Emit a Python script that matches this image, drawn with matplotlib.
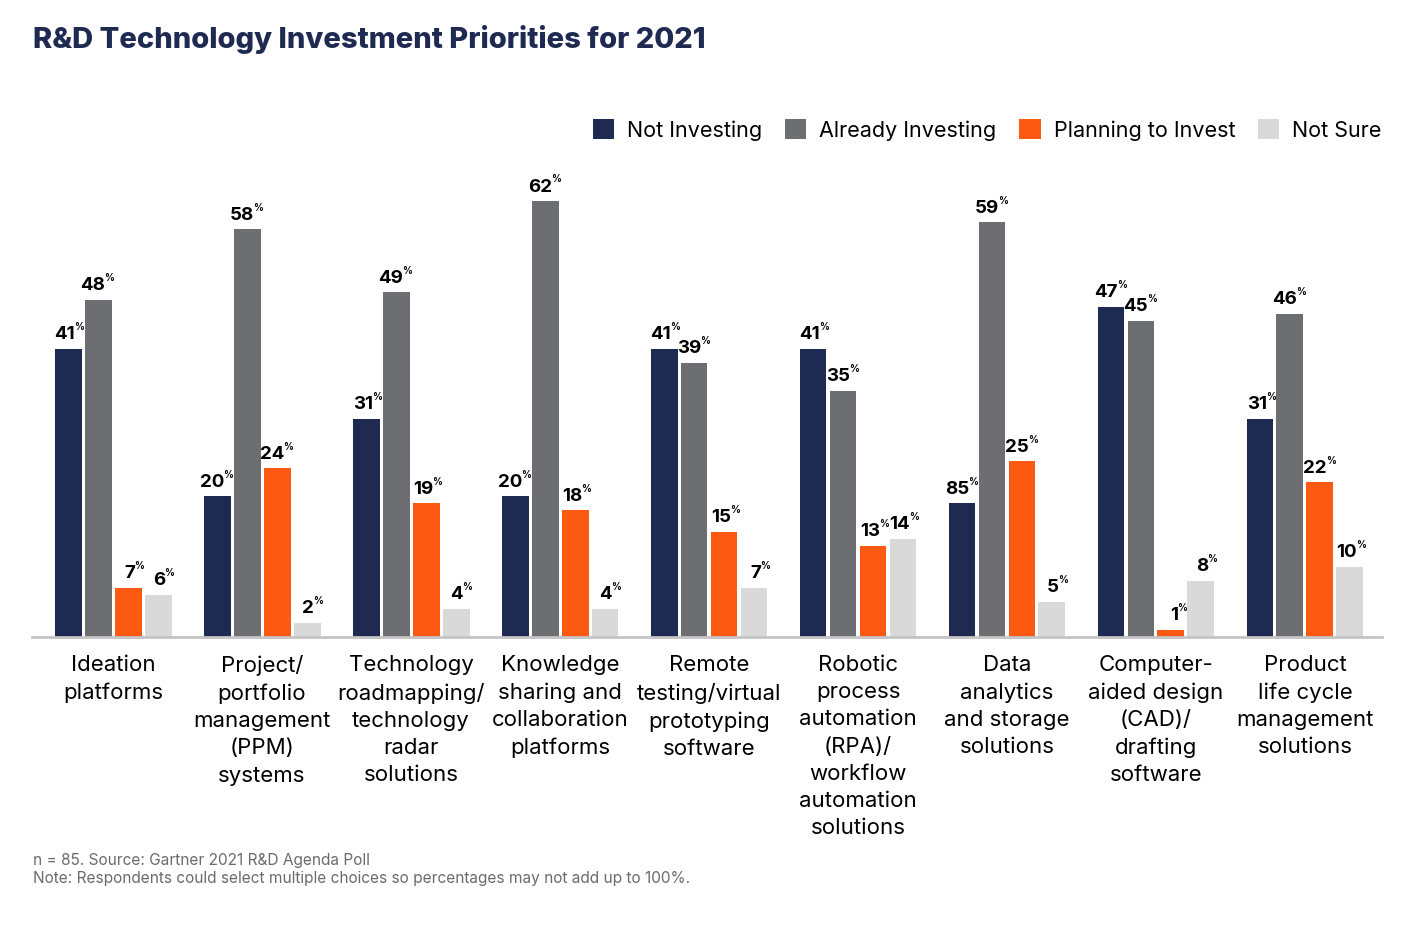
import matplotlib.pyplot as plt
import numpy as np

categories = [
    "Ideation\nplatforms",
    "Project/\nportfolio\nmanagement\n(PPM)\nsystems",
    "Technology\nroadmapping/\ntechnology\nradar\nsolutions",
    "Knowledge\nsharing and\ncollaboration\nplatforms",
    "Remote\ntesting/virtual\nprototyping\nsoftware",
    "Robotic\nprocess\nautomation\n(RPA)/\nworkflow\nautomation\nsolutions",
    "Data\nanalytics\nand storage\nsolutions",
    "Computer-\naided design\n(CAD)/\ndrafting\nsoftware",
    "Product\nlife cycle\nmanagement\nsolutions",
]
series_names = ["Not Investing", "Already Investing", "Planning to Invest", "Not Sure"]
not_investing = [41, 20, 31, 20, 41, 41, 19, 47, 31]
already_investing = [48, 58, 49, 62, 39, 35, 59, 45, 46]
planning = [7, 24, 19, 18, 15, 13, 25, 1, 22]
not_sure = [6, 2, 4, 4, 7, 14, 5, 8, 10]
# printed labels (the source chart prints 85 on the data analytics bar)
not_investing_labels = ["41", "20", "31", "20", "41", "41", "85", "47", "31"]

colors = ["#1f2a52", "#6d6e71", "#fc5a12", "#d9d9d9"]
navy = "#1f2a52"

plt.rcParams['font.family'] = ['Inter', 'DejaVu Sans']

fig = plt.figure(figsize=(14.16, 9.26), dpi=100)
ax = fig.add_axes([32 / 1416, 289 / 926, 1350 / 1416, 457 / 926])

values = [not_investing, already_investing, planning, not_sure]
labels = [not_investing_labels,
          [str(v) for v in already_investing],
          [str(v) for v in planning],
          [str(v) for v in not_sure]]
x = np.arange(len(categories))
pitch = 0.2013
width = 0.181

for i, (vals, labs) in enumerate(zip(values, labels)):
    pos = x + (i - 1.5) * pitch
    ax.bar(pos, vals, width=width, color=colors[i], label=series_names[i], zorder=2)
    for px, v, lab in zip(pos, vals, labs):
        ax.annotate(lab, (px, v), xytext=(5, 4), textcoords='offset points',
                    ha='right', va='bottom', fontsize=13.5, fontweight='bold', color='black')
        ax.annotate('%', (px, v), xytext=(4.6, 12), textcoords='offset points',
                    ha='left', va='bottom', fontsize=7, fontweight='bold', color='black')

ax.set_xlim(-0.544, 8.517)
ax.set_ylim(0, 65)
for s in ['top', 'right', 'left']:
    ax.spines[s].set_visible(False)
ax.spines['bottom'].set_color('#c4c4c4')
ax.spines['bottom'].set_linewidth(2)
ax.set_yticks([])
ax.set_xticks(x)
ax.set_xticklabels(categories, fontsize=16, color='black', linespacing=1.45, va='top')
ax.tick_params(axis='x', length=0, pad=13)

fig.text(33 / 1416, 1 - 40 / 926, "R&D Technology Investment Priorities for 2021",
         fontsize=21, fontweight='heavy', color=navy, va='center', ha='left')

leg = fig.legend(loc='center right', bbox_to_anchor=(1401 / 1416, 1 - 130 / 926), ncol=4,
                 frameon=False, fontsize=15.5, handlelength=1.0, handleheight=1.0,
                 handletextpad=0.6, columnspacing=1.05)

fig.text(33 / 1416, 1 - 860 / 926, "n = 85. Source: Gartner 2021 R&D Agenda Poll",
         fontsize=11.1, color='#6b6b6b', va='center', ha='left')
fig.text(33 / 1416, 1 - 878 / 926,
         "Note: Respondents could select multiple choices so percentages may not add up to 100%.",
         fontsize=11.1, color='#6b6b6b', va='center', ha='left')

fig.savefig("out.png", dpi=100, facecolor='white')
